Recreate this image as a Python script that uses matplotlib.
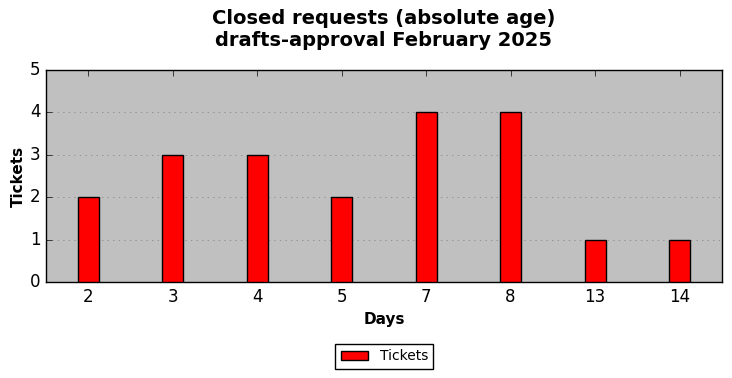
import matplotlib
matplotlib.use("Agg")
import matplotlib.pyplot as plt
import numpy as np

plt.style.use("classic")

days = ["2", "3", "4", "5", "7", "8", "13", "14"]
tickets = [2, 3, 3, 2, 4, 4, 1, 1]

fig = plt.figure(figsize=(7.32, 3.78), dpi=100)
ax = fig.add_axes([0.063, 0.254, 0.923, 0.561])
ax.set_facecolor("#c0c0c0")

x = np.arange(len(days))
ax.bar(x, tickets, width=0.25, color="red", edgecolor="black", align="center", label="Tickets", zorder=3)

ax.set_xticks(x)
ax.set_xticklabels(days)
ax.set_xlim(-0.5, len(days) - 0.5)
ax.set_ylim(0, 5)
ax.set_yticks(range(0, 6))
ax.yaxis.grid(True, linestyle=":", color="#808080", zorder=0)
ax.set_axisbelow(True)
ax.tick_params(axis="y", right=False)

ax.set_xlabel("Days", fontsize=11, fontweight="bold")
ax.set_ylabel("Tickets", fontsize=11, fontweight="bold", labelpad=3)
ax.set_title("Closed requests (absolute age)\ndrafts-approval February 2025",
             fontsize=14, fontweight="bold", y=1.078)

fig.legend(loc="lower center", bbox_to_anchor=(0.525, 0.006), fontsize=10,
           frameon=True, fancybox=False, handlelength=2)

fig.savefig("out.png", dpi=100)
